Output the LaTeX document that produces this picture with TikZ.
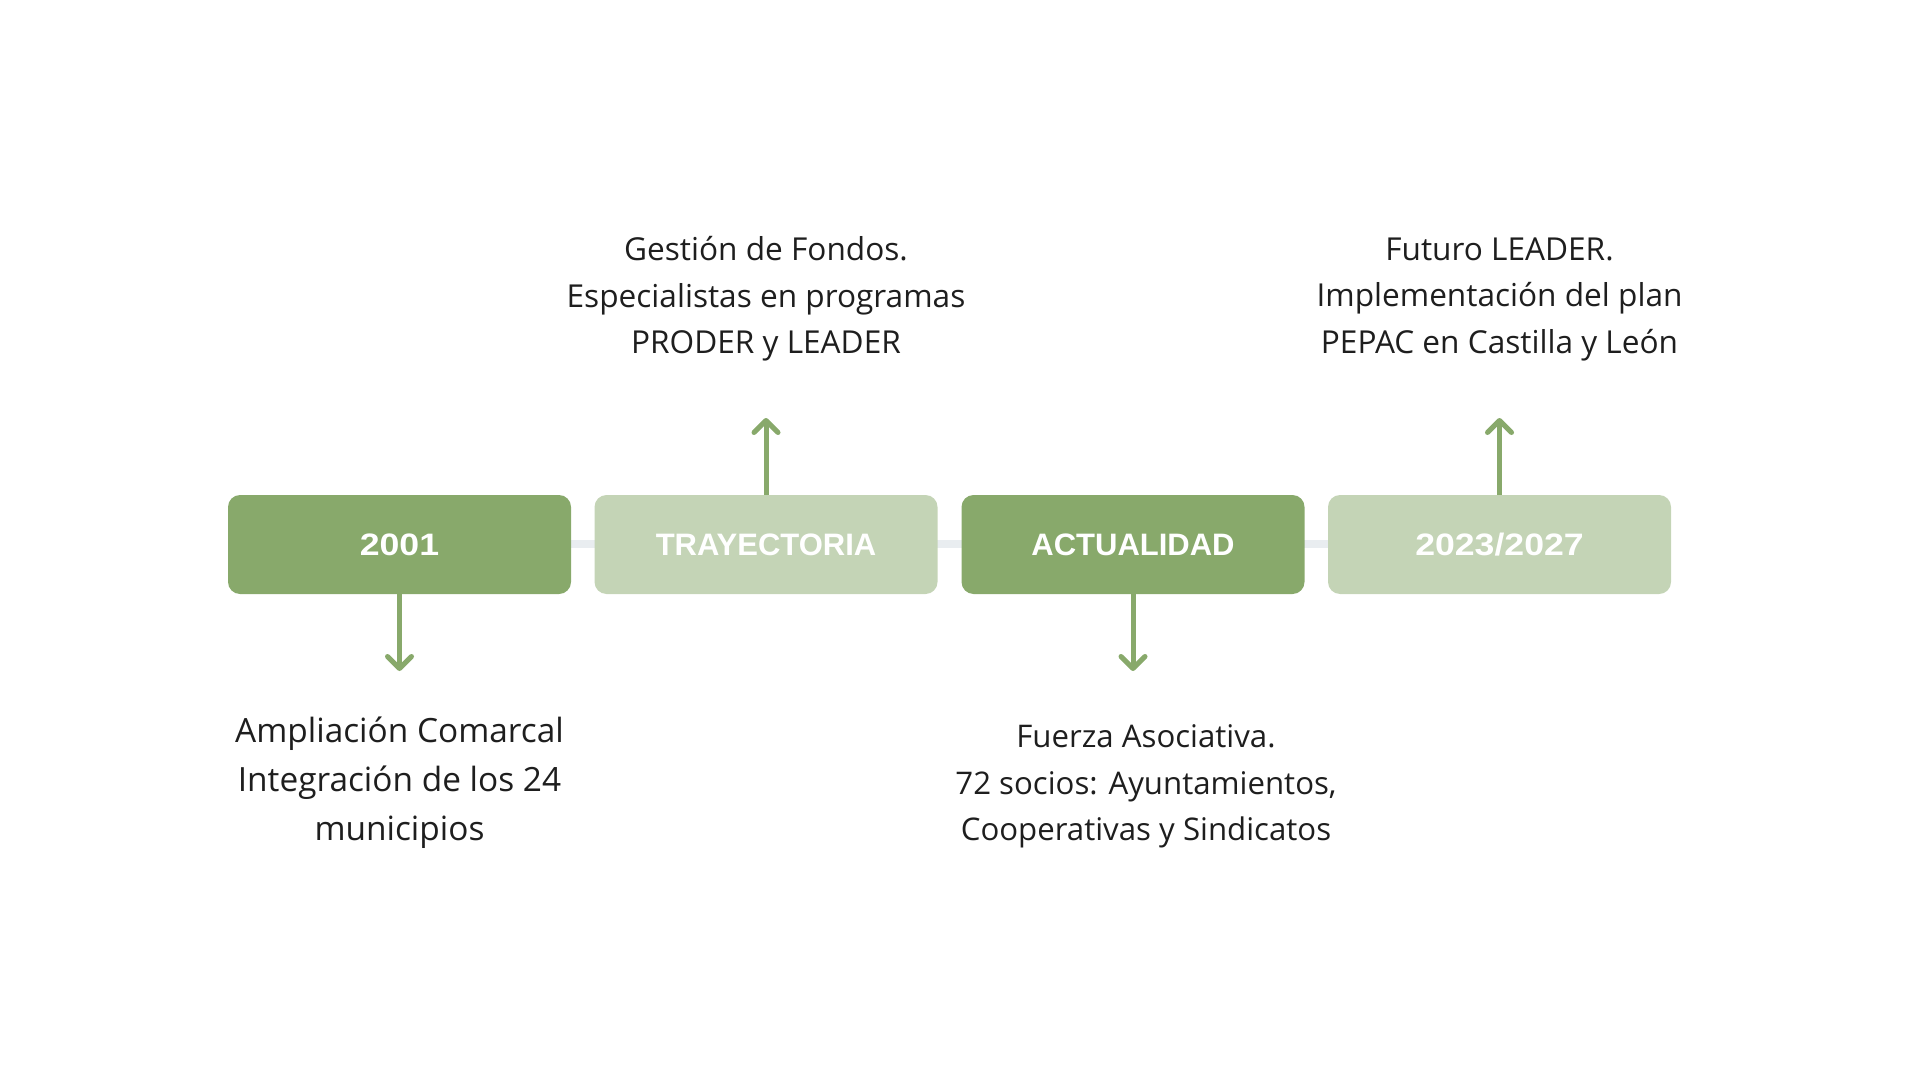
\documentclass[tikz,border=0pt]{standalone}
\usepackage{fontspec}
\setmainfont{Open Sans}
\newfontfamily\labelfont{Liberation Sans}
\newfontfamily\yearfont[FakeStretch=1.15]{Liberation Sans}
\usetikzlibrary{arrows.meta}
\definecolor{greendark}{HTML}{88A96B}
\definecolor{greenlight}{HTML}{C4D4B6}
\definecolor{greyline}{HTML}{E9EDF0}
\definecolor{textdark}{HTML}{1E1E1E}
\begin{document}
\begin{tikzpicture}[
	x=0.5pt, y=-0.5pt,
	stagebox/.style={ rounded corners=6pt, minimum width=171.5pt, minimum height=49.5pt, inner sep=0pt, text=white, font=\labelfont\bfseries\fontsize{15.5}{18}\selectfont },
	stagedark/.style={ stagebox, fill=greendark },
	stagelight/.style={ stagebox, fill=greenlight },
	stageyear/.style={ font=\yearfont\bfseries\fontsize{15.5}{18}\selectfont },
	note/.style={ align=center, text=textdark, inner sep=0pt, font=\fontsize{15.8}{23.25}\selectfont },
	pointer/.style={ greendark, line width=2.5pt, -{Straight Barb[length=6pt,width=12pt,round]} }
]

\useasboundingbox (0,0) rectangle (1920,1080);

\coordinate (lineL) at (399,544);
\coordinate (lineR) at (1499,544);
\draw[greyline, line width=4pt] (lineL) -- (lineR);

\node[stagedark, stageyear] at (399.5,544.5) (y2001) {2001};
\node[stagelight] at (766,544.5) (tray) {TRAYECTORIA};
\node[stagedark] at (1133,544.5) (actual) {ACTUALIDAD};
\node[stagelight, stageyear] at (1499.5,544.5) (y2023) {2023/2027};

\coordinate (tip2001) at (399.5,671);
\coordinate (tiptray) at (766,418);
\coordinate (tipactual) at (1133,671);
\coordinate (tip2023) at (1499.5,418);
\draw[pointer] (y2001.south) -- (tip2001);
\draw[pointer] (tray.north) -- (tiptray);
\draw[pointer] (actual.south) -- (tipactual);
\draw[pointer] (y2023.north) -- (tip2023);

\node[note] at (766,299) (fondos) {Gestión de Fondos.\\Especialistas en programas\\PRODER y LEADER};
\node[note] at (1499.5,299) (futuro) {Futuro LEADER.\\Implementación del plan\\PEPAC en Castilla y León};
\node[note, font=\fontsize{16.7}{24.5}\selectfont] at (399.5,783) (comarca) {Ampliación Comarcal\\Integración de los 24\\municipios};
\node[note, font=\fontsize{15.6}{23.25}\selectfont] at (1146,786.5) (fuerza) {Fuerza Asociativa.\\72 socios: Ayuntamientos,\\Cooperativas y Sindicatos};

\end{tikzpicture}
\end{document}
